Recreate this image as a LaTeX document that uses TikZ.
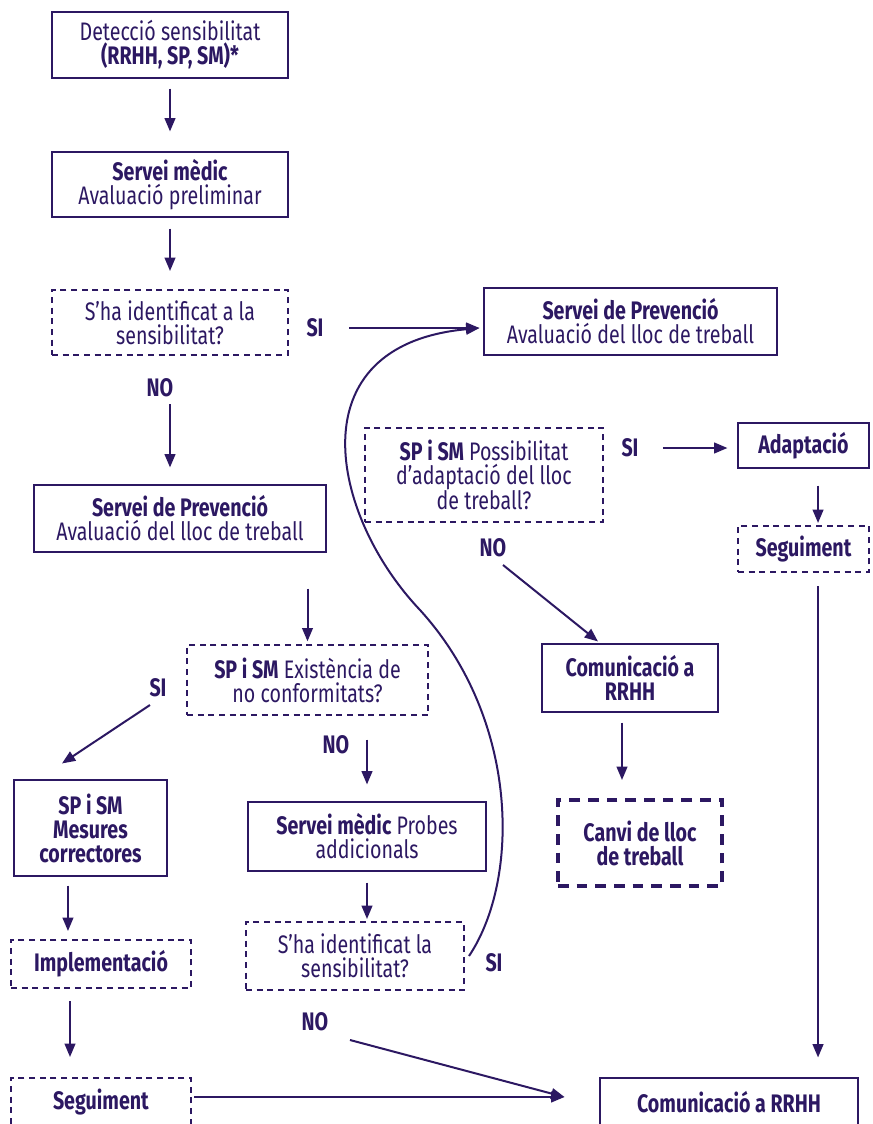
\documentclass[tikz,border=0pt]{standalone}
\usepackage{fontspec}
\setmainfont{Fira Sans}[FakeStretch=0.775]
\usetikzlibrary{positioning, calc, arrows.meta}
\definecolor{ink}{RGB}{44,24,98}

\begin{document}
\begin{tikzpicture}[x=0.75pt, y=-0.75pt,
	every node/.style={text=ink, font=\fontsize{19}{18}\selectfont, align=center, inner sep=0pt},
	box/.style={draw=ink, line width=0.8pt},
	dbox/.style={draw=ink, line width=1.5pt, dash pattern=on 4.5pt off 3.5pt},
	tbox/.style={draw=ink, line width=3pt, dash pattern=on 8pt off 6pt},
	lbl/.style={font=\fontsize{19}{18}\selectfont\bfseries},
	arr/.style={draw=ink, line width=1.5pt, -{Triangle[length=10pt, width=8pt]}}]
	\useasboundingbox (0,0) rectangle (873,1124);

	% boxes
	\node[box, minimum width=177pt, minimum height=49.5pt] (detect) at (170,45) {Detecció sensibilitat\\\textbf{(RRHH, SP, SM)*}};
	\node[box, minimum width=177pt, minimum height=48.75pt] (medic) at (170,184.5) {\textbf{Servei mèdic}\\Avaluació preliminar};
	\node[dbox, minimum width=177pt, minimum height=48.75pt] (ident1) at (170,322.5) {S’ha identificat a la\\sensibilitat?};
	\node[box, minimum width=219.75pt, minimum height=50.25pt] (prevR) at (630.5,321.5) {\textbf{Servei de Prevenció}\\Avaluació del lloc de treball};
	\node[box, minimum width=219pt, minimum height=50.25pt] (prevL) at (180,518.5) {\textbf{Servei de Prevenció}\\Avaluació del lloc de treball};
	\node[dbox, minimum width=178.5pt, minimum height=70.5pt] (adapt) at (484,475) {\textbf{SP i SM} Possibilitat\\d’adaptació del lloc\\de treball?};
	\node[box, minimum width=98.25pt, minimum height=33.75pt] (adaptacio) at (803.5,445.5) {\textbf{Adaptació}};
	\node[dbox, minimum width=98.25pt, minimum height=34.5pt] (segR) at (803.5,549) {\textbf{Seguiment}};
	\node[dbox, minimum width=180.75pt, minimum height=52.5pt] (exist) at (307.5,680) {\textbf{SP i SM} Existència de\\no conformitats?};
	\node[box, minimum width=132pt, minimum height=51pt] (comMid) at (630,678) {\textbf{Comunicació a}\\\textbf{RRHH}};
	\node[box, minimum width=114.75pt, minimum height=72pt] (mesures) at (90.5,828) {\textbf{SP i SM}\\\textbf{Mesures}\\\textbf{correctores}};
	\node[box, minimum width=178.5pt, minimum height=51.75pt] (probes) at (367,836.5) {\textbf{Servei mèdic} Probes\\addicionals};
	\node[tbox, minimum width=123pt, minimum height=64.5pt] (canvi) at (640,843) {\textbf{Canvi de lloc}\\\textbf{de treball}};
	\node[dbox, minimum width=135pt, minimum height=36pt] (implem) at (101,964) {\textbf{Implementació}};
	\node[dbox, minimum width=163.5pt, minimum height=51pt] (ident2) at (355,956) {S’ha identificat la\\sensibilitat?};
	\node[dbox, minimum width=135pt, minimum height=36pt] (segL) at (101,1102) {\textbf{Seguiment}};
	\node[box, minimum width=193.5pt, minimum height=36pt] (comBot) at (729,1102) {\textbf{Comunicació a RRHH}};

	% answers
	\node[lbl] (siA) at (315,328) {SI};
	\node[lbl] (noA) at (160,388) {NO};
	\node[lbl] (siB) at (630,448) {SI};
	\node[lbl] (noB) at (493,548) {NO};
	\node[lbl] (siC) at (158,688) {SI};
	\node[lbl] (noC) at (336,745) {NO};
	\node[lbl] (siD) at (494,963) {SI};
	\node[lbl] (noD) at (315,1022) {NO};

	\coordinate (tipA) at ($(siA.east -| prevR.west) + (-3pt, 0)$);
	\coordinate (tipB) at ($(comBot.west) + (-26.25pt, 3.75pt)$);
	\coordinate (noAx) at (noA.south -| ident1.south);
	\coordinate (adaptout) at ([xshift=10.9pt]adaptacio.south);
	\coordinate (segRout) at ([xshift=10.9pt]segR.south);
	\coordinate (comMidout) at ([xshift=-6pt]comMid.south);
	\coordinate (mesout) at ([xshift=-16.9pt]mesures.south);
	\coordinate (implout) at ([xshift=-23.25pt]implem.south);

	\draw[arr, shorten <=7.5pt, shorten >=15pt] (detect) -- (medic);
	\draw[arr, shorten <=8.25pt, shorten >=13.5pt] (medic) -- (ident1);
	\draw[arr, shorten <=19pt] (siA.east) -- (tipA);
	\draw[arr, shorten <=5pt, shorten >=12.75pt] (noAx) -- (noAx |- prevL.north);
	\draw[arr, shorten <=27pt, shorten >=2pt] (prevL.south -| exist.north) -- (exist.north);
	\draw[arr, shorten <=18pt, shorten >=7.5pt] (siB.east) -- (siB.east -| adaptacio.west);
	\draw[arr, shorten <=12.75pt, shorten >=1.5pt] (adaptout) -- (adaptout |- segR.north);
	\draw[arr] ($(noB) + (7.5pt, -12.75pt)$) -- ($(comMid.north) + (-24pt, 1.5pt)$);
	\draw[arr] ($(siC) + (-6pt, -12.75pt)$) -- ($(mesures.north) + (-21.4pt, 12pt)$);
	\draw[arr, shorten <=3pt, shorten >=12.75pt] (probes.north |- noC.north) -- (probes.north);
	\draw[arr, shorten <=7.5pt, shorten >=13.5pt] (comMidout) -- (comMidout |- canvi.north);
	\draw[arr, shorten <=6.75pt, shorten >=6pt] (mesout) -- (mesout |- implem.north);
	\draw[arr, shorten <=8.25pt, shorten >=1.5pt] (probes.south) -- (probes.south |- ident2.north);
	\draw[arr, shorten <=9pt, shorten >=15pt] (implout) -- (implout |- segL.north);
	\draw[arr, shorten <=1.5pt] (segL.east |- tipB) -- (tipB);
	\draw[arr] ($(noD) + (26.25pt, -13.5pt)$) -- (tipB);
	\draw[arr, shorten <=9.75pt, shorten >=15pt] (segRout) -- (segRout |- comBot.north);

	% loop back to the right-hand Servei de Prevenció
	\draw[arr] ([xshift=3pt]ident2.east) .. controls (520,880) and (520,720) .. (420,610) .. controls (330,515) and (295,345) .. (tipA);
\end{tikzpicture}
\end{document}
